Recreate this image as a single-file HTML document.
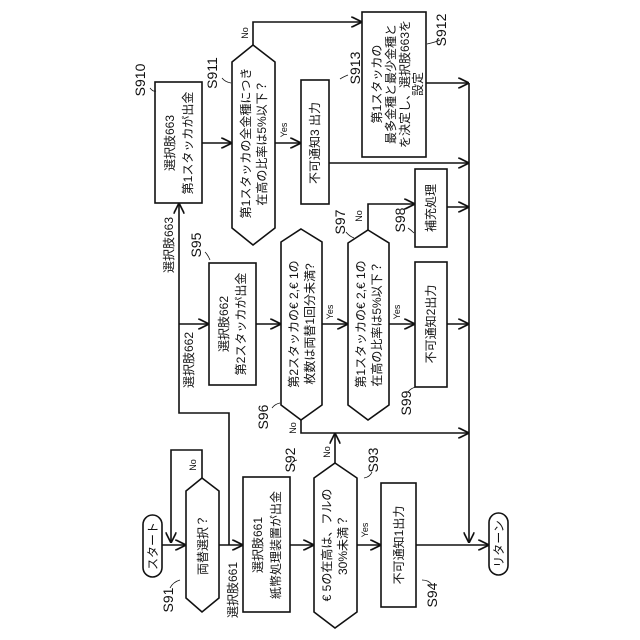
<!DOCTYPE html>
<html><head><meta charset="utf-8"><style>
html,body{margin:0;padding:0;background:#fff;}
svg{display:block;}
text{font-family:"Liberation Sans","Noto Sans CJK JP",sans-serif;fill:#111;}
</style></head><body>
<svg width="640" height="640" viewBox="0 0 640 640" xmlns="http://www.w3.org/2000/svg">
<defs><marker id="a" viewBox="0 0 10 10" refX="10" refY="5" markerWidth="7" markerHeight="7" orient="auto"><path d="M0,0 L10,5 L0,10" fill="none" stroke="#111" stroke-width="1.5"/></marker></defs>
<g fill="none" stroke="#111" stroke-width="1.6">
<rect x="143" y="515" width="19" height="62" rx="9.5"/>
<polygon points="202,478 219,491 219,598 202,612 186,598 186,491"/>
<rect x="243" y="477" width="47" height="135"/>
<polygon points="335,463 357,478 357,612 335,628 314,612 314,478"/>
<rect x="381" y="483" width="35" height="124"/>
<rect x="489" y="513" width="19" height="62" rx="9.5"/>
<rect x="209" y="263" width="47" height="122"/>
<polygon points="301,229 322,242 322,405 301,420 281,405 281,242"/>
<polygon points="368,230 389,243 389,405 368,420 348,405 348,243"/>
<rect x="415" y="262" width="32" height="125"/>
<rect x="415" y="169" width="32" height="78"/>
<rect x="155" y="82" width="47" height="121"/>
<polygon points="253,45 275,62 275,228 253,245 232,228 232,62"/>
<rect x="301" y="80" width="28" height="124"/>
<rect x="362" y="12" width="64" height="145"/>
<line x1="162" y1="545" x2="186" y2="545" marker-end="url(#a)"/>
<polyline points="202,478 202,450 171,450 171,543" marker-end="url(#a)"/>
<line x1="219" y1="545" x2="243" y2="545" marker-end="url(#a)"/>
<line x1="290" y1="545" x2="314" y2="545" marker-end="url(#a)"/>
<line x1="357" y1="545" x2="381" y2="545" marker-end="url(#a)"/>
<line x1="416" y1="545" x2="489" y2="545" marker-end="url(#a)"/>
<polyline points="335,463 335,433" marker-end="url(#a)"/>
<polyline points="229,545 229,413 179,413 179,203" marker-end="url(#a)"/>
<line x1="179" y1="324" x2="209" y2="324" marker-end="url(#a)"/>
<line x1="256" y1="324" x2="281" y2="324" marker-end="url(#a)"/>
<line x1="322" y1="324" x2="348" y2="324" marker-end="url(#a)"/>
<line x1="389" y1="324" x2="415" y2="324" marker-end="url(#a)"/>
<line x1="447" y1="324" x2="469" y2="324" marker-end="url(#a)"/>
<polyline points="301,420 301,433 469,433" marker-end="url(#a)"/>
<polyline points="368,230 368,204 415,204" marker-end="url(#a)"/>
<line x1="447" y1="207" x2="469" y2="207" marker-end="url(#a)"/>
<line x1="202" y1="143" x2="232" y2="143" marker-end="url(#a)"/>
<line x1="275" y1="143" x2="301" y2="143" marker-end="url(#a)"/>
<line x1="329" y1="163" x2="469" y2="163" marker-end="url(#a)"/>
<polyline points="253,45 253,22 362,22" marker-end="url(#a)"/>
<line x1="426" y1="83" x2="469" y2="83" marker-end="url(#a)"/>
<line x1="469" y1="83" x2="469" y2="543" marker-end="url(#a)"/>
</g>
<g font-size="12" text-anchor="middle">
<text transform="translate(157,546) rotate(-90)">スタート</text>
<text transform="translate(207,545) rotate(-90)">両替選択？</text>
<text transform="translate(262,545) rotate(-90)">選択肢661</text>
<text transform="translate(280,545) rotate(-90)">紙幣処理装置が出金</text>
<text transform="translate(331,545) rotate(-90)">€ 5の在高は、フルの</text>
<text transform="translate(347,545) rotate(-90)">30%未満？</text>
<text transform="translate(403,545) rotate(-90)">不可通知1出力</text>
<text transform="translate(503,544) rotate(-90)">リターン</text>
<text transform="translate(228,324) rotate(-90)">選択肢662</text>
<text transform="translate(245,324) rotate(-90)">第2スタッカが出金</text>
<text transform="translate(298,324) rotate(-90)">第2スタッカの€ 2,€ 1の</text>
<text transform="translate(314,324) rotate(-90)">枚数は両替1回分未満?</text>
<text transform="translate(365,324) rotate(-90)">第1スタッカの€ 2,€ 1の</text>
<text transform="translate(381,324) rotate(-90)">在高の比率は5%以下？</text>
<text transform="translate(435,324) rotate(-90)">不可通知2出力</text>
<text transform="translate(435,208) rotate(-90)">補充処理</text>
<text transform="translate(174,143) rotate(-90)">選択肢663</text>
<text transform="translate(192,143) rotate(-90)">第1スタッカが出金</text>
<text transform="translate(250,143) rotate(-90)">第1スタッカの全金種につき</text>
<text transform="translate(266,143) rotate(-90)">在高の比率は5%以下？</text>
<text transform="translate(319,143) rotate(-90)">不可通知3 出力</text>
<text transform="translate(381,84) rotate(-90)">第1スタッカの</text>
<text transform="translate(395,84) rotate(-90)">最多金種と最少金種と</text>
<text transform="translate(409,84) rotate(-90)">を決定し、選択肢663を</text>
<text transform="translate(422,84) rotate(-90)">設定</text>
<text transform="translate(237,590) rotate(-90)">選択肢661</text>
<text transform="translate(193,360) rotate(-90)">選択肢662</text>
<text transform="translate(173,245) rotate(-90)">選択肢663</text>
</g>
<g font-size="9" text-anchor="middle">
<text transform="translate(196,465) rotate(-90)">No</text>
<text transform="translate(330,452) rotate(-90)">No</text>
<text transform="translate(368,530) rotate(-90)">Yes</text>
<text transform="translate(296,428) rotate(-90)">No</text>
<text transform="translate(333,312) rotate(-90)">Yes</text>
<text transform="translate(400,312) rotate(-90)">Yes</text>
<text transform="translate(362,216) rotate(-90)">No</text>
<text transform="translate(248,33) rotate(-90)">No</text>
<text transform="translate(287,130) rotate(-90)">Yes</text>
</g>
<g font-size="14" text-anchor="middle">
<text transform="translate(173,600) rotate(-90)">S91</text>
<text transform="translate(295,460) rotate(-90)">S92</text>
<text transform="translate(378,460) rotate(-90)">S93</text>
<text transform="translate(437,595) rotate(-90)">S94</text>
<text transform="translate(201,245) rotate(-90)">S95</text>
<text transform="translate(268,417) rotate(-90)">S96</text>
<text transform="translate(345,222) rotate(-90)">S97</text>
<text transform="translate(405,220) rotate(-90)">S98</text>
<text transform="translate(411,403) rotate(-90)">S99</text>
<text transform="translate(145,80) rotate(-90)">S910</text>
<text transform="translate(217,73) rotate(-90)">S911</text>
<text transform="translate(360,68) rotate(-90)">S913</text>
<text transform="translate(446,30) rotate(-90)">S912</text>
</g>
<g fill="none" stroke="#111" stroke-width="0.8">
<path d="M170,588 q3,-6 10,-8"/><path d="M290,466 q2,-5 7,-6"/><path d="M372,472 q-2,5 -8,6"/>
<path d="M432,585 q-3,-5 -10,-5"/><path d="M205,252 q3,3 5,8"/><path d="M272,408 q3,-4 8,-5"/>
<path d="M346,232 q3,4 8,6"/><path d="M408,228 q3,2 6,5"/><path d="M408,392 q3,-4 8,-5"/>
<path d="M150,88 q3,4 6,3"/><path d="M222,78 q3,4 9,5"/><path d="M348,75 q-5,2 -8,4"/><path d="M440,40 q-4,2 -13,4"/>
</g>
</svg>
</body></html>
